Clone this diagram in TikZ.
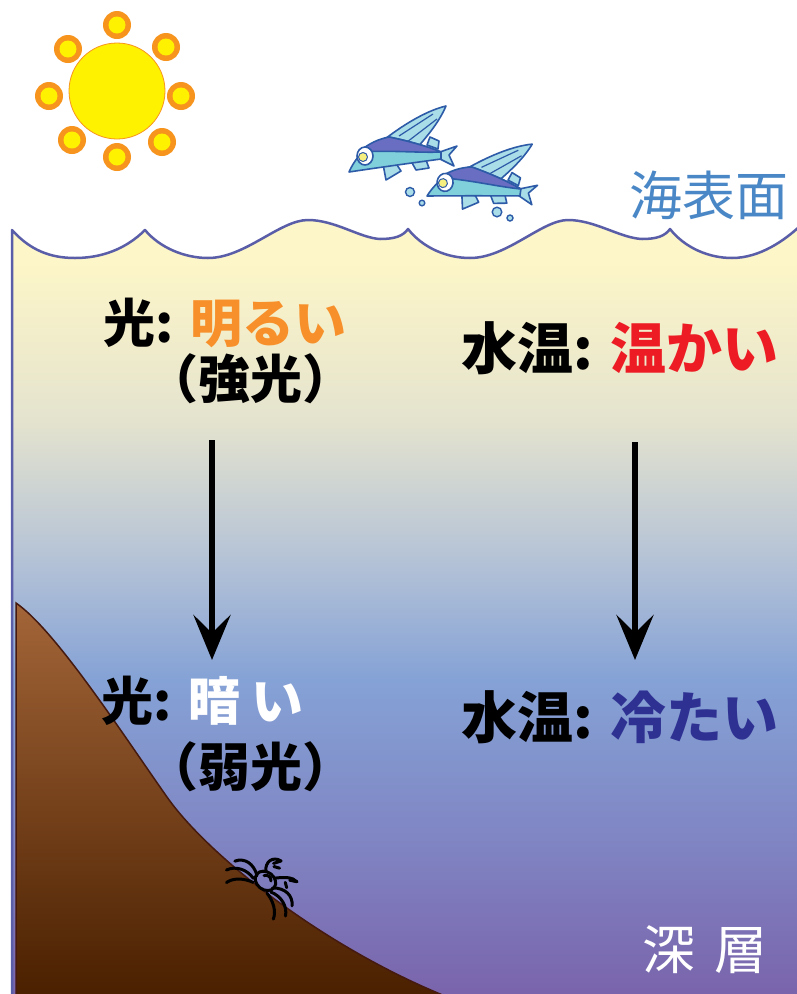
\documentclass[tikz,border=0pt]{standalone}
\usepackage{fontspec}
\newfontfamily\jp{Noto Sans CJK JP}
\usetikzlibrary{arrows.meta}

\definecolor{wave}{HTML}{5A5EA8}
\definecolor{sea1}{HTML}{FDF6C8}
\definecolor{sea2}{HTML}{E4E3CE}
\definecolor{sea3}{HTML}{B8C5D6}
\definecolor{sea4}{HTML}{85A2D6}
\definecolor{sea5}{HTML}{8087C4}
\definecolor{sea6}{HTML}{7A64AC}
\definecolor{landtop}{HTML}{A36538}
\definecolor{landbot}{HTML}{4A2000}
\definecolor{landline}{HTML}{451A10}
\definecolor{sunyel}{HTML}{FFF200}
\definecolor{sunorg}{HTML}{F7941D}
\definecolor{fishline}{HTML}{2D5BA8}
\definecolor{fishwing}{HTML}{A9DDE8}
\definecolor{fishback}{HTML}{6A6EC2}
\definecolor{fishbelly}{HTML}{7FD0DA}
\definecolor{fisheye}{HTML}{F4EF7E}
\definecolor{txtorange}{HTML}{F7902A}
\definecolor{txtred}{HTML}{ED1C24}
\definecolor{txtnavy}{HTML}{2E3192}
\definecolor{surfblue}{HTML}{4A87C6}

% water colour from the surface (top) down to the deep layer (bottom)
\pgfdeclareverticalshading{seashade}{100bp}{%
  color(0bp)=(sea6); color(25bp)=(sea6); color(35.5bp)=(sea5);
  color(45.2bp)=(sea4); color(53.5bp)=(sea3); color(61.8bp)=(sea2);
  color(72bp)=(sea1); color(75bp)=(sea1); color(100bp)=(sea1)}

\tikzset{
  lbl/.style={font=\jp\bfseries\fontsize{52pt}{60pt}\selectfont, inner sep=0pt, anchor=base},
  lblbig/.style={font=\jp\bfseries\fontsize{56pt}{64pt}\selectfont, inner sep=0pt, anchor=base},
  plain/.style={font=\jp\fontsize{53pt}{62pt}\selectfont, inner sep=0pt, anchor=base},
  downarrow/.style={line width=6.5pt, -{Stealth[length=45pt,width=37pt,inset=18pt]}},
  sunray/.pic={\fill[sunorg] (0,0) circle (14); \fill[sunyel] (0,0) circle (8.5);},
  crabline/.style={line width=3pt, line cap=round},
  flyfish/.pic={
    \begin{scope}[draw=fishline, line width=1.6pt, line join=round]
      % wing
      \filldraw[fill=fishwing] (36,-33) .. controls (58,-50) and (80,-62) .. (97,-66)
        .. controls (90,-50) and (80,-38) .. (68,-24) -- cycle;
      \draw[line width=1.2pt] (50,-36) -- (84,-58) (58,-30) -- (88,-53);
      % fins
      \filldraw[fill=fishwing] (78,-27) -- (81,-35) -- (90,-31) -- (89,-23) -- cycle;
      \filldraw[fill=fishwing] (34,-8) -- (37,8) -- (52,-1) -- (48,-7) -- cycle;
      \filldraw[fill=fishwing] (62,-11) -- (67,-2) -- (80,-4) -- (77,-12) -- cycle;
      % tail
      \filldraw[fill=fishwing] (91,-20) -- (108,-26) -- (100,-17) -- (105,-6) -- (91,-13) -- cycle;
      % body
      \filldraw[fill=fishbelly] (0,0) .. controls (8,-18) and (22,-30) .. (40,-35)
        .. controls (60,-31) and (80,-25) .. (92,-20) -- (92,-13)
        .. controls (70,-10) and (40,-6) .. (0,0) -- cycle;
      \filldraw[fill=fishback] (10,-20) .. controls (20,-29) and (30,-33) .. (40,-35)
        .. controls (60,-31) and (80,-25) .. (92,-20)
        .. controls (70,-19) and (40,-22) .. (10,-20) -- cycle;
      % eye
      \filldraw[fill=white] (16,-16) ellipse (8 and 9);
      \filldraw[fill=fisheye, line width=1pt] (14,-15) circle (4.5);
    \end{scope}
  },
  bubble/.style={draw=fishline, fill=fishwing, line width=1.4pt}
}

\begin{document}
\begin{tikzpicture}[x=1pt, y=-1pt]
\useasboundingbox (0,0) rectangle (797,994);
\fill[white] (0,0) rectangle (797,994);

% sea body
\begin{scope}
  \clip (12,994) -- (12,230)
    .. controls (30,250) and (50,258) .. (75,258) .. controls (100,258) and (125,250) .. (145,230)
    .. controls (160,248) and (185,258) .. (208,258) .. controls (245,258) and (280,220) .. (308,220)
    .. controls (335,220) and (360,238) .. (380,239) .. controls (395,239) and (403,236) .. (408,229)
    .. controls (423,248) and (447,258) .. (470,258) .. controls (507,258) and (542,220) .. (568,220)
    .. controls (595,220) and (620,238) .. (642,239) .. controls (657,239) and (665,236) .. (670,229)
    .. controls (685,248) and (709,258) .. (732,258) .. controls (760,258) and (785,240) .. (800,226)
    -- (800,994) -- cycle;
  \shade[shading=seashade] (0,215) rectangle (800,994);
\end{scope}

% sloping sea floor
\shade[top color=landtop, bottom color=landbot, draw=landline, line width=1.5pt]
  (16,603) .. controls (55,630) and (120,730) .. (167,797)
  .. controls (207,854) and (320,945) .. (445,996)
  -- (16,996) -- cycle;

% crab on the slope
\begin{scope}[shift={(256,893)}, rotate=-38, scale=1.1]
  \draw[crabline] (0,-14) ellipse (10 and 8);
  \draw[crabline] (-4,-17) .. controls (-2,-20) and (2,-20) .. (4,-17);
  % claws
  \draw[crabline] (-5,-21) .. controls (-11,-27) and (-9,-36) .. (0,-37);
  \draw[crabline] (0,-37) -- (-4,-31);
  \draw[crabline] (-2,-29) -- (3,-31);
  \draw[crabline] (5,-21) .. controls (11,-27) and (17,-32) .. (23,-31);
  \draw[crabline] (23,-31) -- (17,-28);
  \draw[crabline] (15,-24) -- (19,-21);
  % legs
  \draw[crabline] (-9,-13) .. controls (-18,-20) and (-28,-19) .. (-33,-11);
  \draw[crabline] (-10,-9) .. controls (-20,-12) and (-30,-8) .. (-34,0);
  \draw[crabline] (-8,-6) .. controls (-17,-4) and (-25,2) .. (-27,9);
  \draw[crabline] (9,-13) .. controls (18,-20) and (28,-19) .. (33,-11);
  \draw[crabline] (10,-9) .. controls (20,-12) and (30,-8) .. (34,0);
  \draw[crabline] (8,-6) .. controls (17,-4) and (25,2) .. (27,9);
\end{scope}

% sea surface line
\draw[wave, line width=2.5pt, line join=round] (12,996) -- (12,230)
    .. controls (30,250) and (50,258) .. (75,258) .. controls (100,258) and (125,250) .. (145,230)
    .. controls (160,248) and (185,258) .. (208,258) .. controls (245,258) and (280,220) .. (308,220)
    .. controls (335,220) and (360,238) .. (380,239) .. controls (395,239) and (403,236) .. (408,229)
    .. controls (423,248) and (447,258) .. (470,258) .. controls (507,258) and (542,220) .. (568,220)
    .. controls (595,220) and (620,238) .. (642,239) .. controls (657,239) and (665,236) .. (670,229)
    .. controls (685,248) and (709,258) .. (732,258) .. controls (760,258) and (785,240) .. (800,226);

% sun
\filldraw[fill=sunyel, draw=sunorg, line width=0.8pt] (117,91) circle (48);
\foreach \p in {(117,25),(68,49),(166,47),(49,96),(181,96),(72,140),(117,157),(162,142)}
  \pic at \p {sunray};

% flying fish and spray
\pic at (349,172) {flyfish};
\pic[rotate=-8] at (427,196) {flyfish};
\draw[bubble] (410,192) circle (4.5);
\draw[bubble] (422,203) circle (2.8);
\draw[bubble] (497,212) circle (4.8);
\draw[bubble] (510,218) circle (3);

% labels
\node[plain, text=surfblue] (surface) at (709,215) {海表面};
\node[plain, text=white] (deep) at (705,969) {深\hspace{0.35em}層};

\node[lbl] (lightTop) at (225,342) {光: \textcolor{txtorange}{明るい}};
\node[lbl] (lightTopSub) at (250,398) {（強光）};
\node[lblbig] (tempTop) at (620,369) {水温: \textcolor{txtred}{温かい}};

\node[lbl] (lightLow) at (203,720) {光: \textcolor{white}{暗 い}};
\node[lbl] (lightLowSub) at (250,786) {（弱光）};
\node[lblbig] (tempLow) at (620,738) {水温: \textcolor{txtnavy}{冷たい}};

% depth arrows
\coordinate (la1) at (212,440);
\coordinate (la2) at (212,660);
\coordinate (ra1) at (635,442);
\coordinate (ra2) at (635,660);
\draw[downarrow] (la1) -- (la2);
\draw[downarrow] (ra1) -- (ra2);
\end{tikzpicture}
\end{document}
